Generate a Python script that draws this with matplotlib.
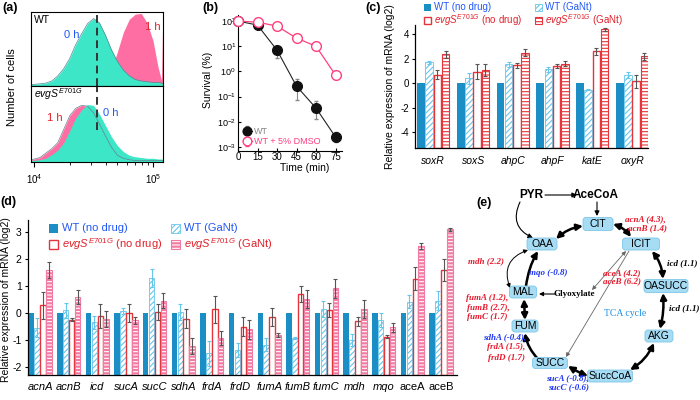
import numpy as np
import matplotlib
matplotlib.use('Agg')
import matplotlib.pyplot as plt
from matplotlib.patches import FancyBboxPatch, Rectangle
from matplotlib.ticker import FixedLocator, NullLocator, NullFormatter

plt.rcParams['font.family'] = ['Liberation Sans', 'DejaVu Sans']
plt.rcParams['mathtext.fontset'] = 'custom'
plt.rcParams['mathtext.rm'] = 'Liberation Sans'
plt.rcParams['mathtext.it'] = 'Liberation Sans:italic'
plt.rcParams['mathtext.bf'] = 'Liberation Sans:bold'
plt.rcParams['hatch.linewidth'] = 0.8
plt.rcParams['axes.unicode_minus'] = False

# ---------------- data ----------------
# (a) flow cytometry histograms (log10 fluorescence, normalised counts)
hist_logx = [3.98, 4.05, 4.10, 4.15, 4.20, 4.25, 4.30, 4.35, 4.40, 4.45, 4.50, 4.55,
             4.60, 4.65, 4.70, 4.75, 4.80, 4.85, 4.90, 4.95, 5.00, 5.04, 5.07, 5.08]
wt_0h = [0.0, 0.01, 0.02, 0.05, 0.12, 0.22, 0.36, 0.55, 0.70, 0.84, 0.91, 0.85,
         0.68, 0.48, 0.32, 0.20, 0.12, 0.07, 0.05, 0.04, 0.03, 0.03, 0.02, 0.02]
wt_1h = [0, 0, 0, 0, 0, 0, 0, 0, 0, 0, 0.0, 0.02,
         0.06, 0.20, 0.45, 0.72, 0.90, 0.97, 0.98, 0.85, 0.60, 0.25, 0.06, 0.85]
mut_1h = [0.01, 0.04, 0.10, 0.16, 0.24, 0.42, 0.60, 0.70, 0.74, 0.73, 0.64, 0.49,
          0.33, 0.18, 0.07, 0.03, 0.01, 0, 0, 0, 0, 0, 0, 0]
mut_0h = [0.0, 0.01, 0.03, 0.08, 0.14, 0.24, 0.40, 0.57, 0.68, 0.75, 0.74, 0.62,
          0.47, 0.32, 0.20, 0.12, 0.07, 0.05, 0.04, 0.03, 0.03, 0.02, 0.02, 0.02]
gate_logx = 4.53

# (b) survival
time_min = [0, 15, 30, 45, 60, 75]
wt_surv = [100, 69, 7.0, 0.26, 0.035, 0.0025]
wt_lo = [100, 60, 3.4, 0.074, 0.013, 0.0016]
wt_hi = [100, 78, 10.2, 0.5, 0.067, 0.004]
dmso_surv = [100, 90, 63, 21, 10, 0.72]
dmso_lo = [100, 80, 55, 17, 8, 0.55]
dmso_hi = [100, 100, 72, 25, 12.5, 0.9]

# (c) oxidative stress genes
c_genes = ['soxR', 'soxS', 'ahpC', 'ahpF', 'katE', 'oxyR']
c_wt_nodrug = [0, 0, 0, 0, 0, 0]
c_wt_gant = [1.7, 0.4, 1.55, 1.15, -0.55, 0.65]
c_wt_gant_err = [0.1, 0.45, 0.2, 0.2, 0.05, 0.25]
c_mut_nodrug = [0.7, 0.95, 1.45, 1.4, 2.6, 0.15]
c_mut_nodrug_err = [0.4, 0.6, 0.2, 0.15, 0.3, 0.55]
c_mut_gant = [2.35, 1.1, 2.5, 1.6, 4.4, 2.2]
c_mut_gant_err = [0.3, 0.5, 0.3, 0.2, 0.1, 0.3]

# (d) TCA genes
d_genes = ['acnA', 'acnB', 'icd', 'sucA', 'sucC', 'sdhA', 'frdA', 'frdD', 'fumA',
           'fumB', 'fumC', 'mdh', 'mqo', 'aceA', 'aceB']
d_wt_nodrug = [0] * 15
d_wt_gant = [-0.55, 0.1, -0.35, 0.07, 1.3, 0.04, -1.5, -1.38, -1.17, -0.92, 0.15,
             -1.0, -0.26, 0.42, 0.46]
d_wt_gant_err = [0.35, 0.27, 0.25, 0.1, 0.35, 0.3, 0.45, 0.25, 0.23, 0.03, 0.3,
                 0.22, 0.25, 0.25, 0.35]
d_mut_nodrug = [0.29, -0.25, -0.12, 0.0, 0.04, -0.22, 0.13, -0.51, -0.16, 0.7, 0.12,
                -0.3, -0.88, 1.27, 1.6]
d_mut_nodrug_err = [0.5, 0.05, 0.45, 0.35, 0.3, 0.35, 0.5, 0.35, 0.33, 0.3, 0.25,
                    0.17, 0.05, 0.43, 0.4]
d_mut_gant = [1.6, 0.6, -0.22, -0.27, 0.45, -1.23, -0.93, -0.61, -0.82, 0.52, 0.92,
              0.15, -0.53, 2.48, 3.1]
d_mut_gant_err = [0.3, 0.25, 0.3, 0.12, 0.28, 0.3, 0.25, 0.35, 0.07, 0.33, 0.35,
                  0.33, 0.17, 0.12, 0.07]

# ---------------- styles ----------------
CYAN = '#3DE6C6'
PINK = '#FF6EA2'
BLUE_BAR = '#1B8EC6'
HATCH_BLUE = '#66C6EC'
RED = '#E5343A'
PINK_BAR = '#F27BA3'
TXT_BLUE = '#2258F5'
TXT_RED = '#E0202A'
GENE_RED = '#E8192C'
GENE_BLUE = '#2038F0'

W, H = 700, 400
fig = plt.figure(figsize=(7, 4), dpi=100)


def axpx(l, t, r, b):
    return fig.add_axes([l / W, 1 - b / H, (r - l) / W, (b - t) / H])


ov = fig.add_axes([0, 0, 1, 1])
ov.set_xlim(0, W)
ov.set_ylim(H, 0)
ov.axis('off')
ov.set_zorder(10)
ov.patch.set_visible(False)

# ---------------- panel (a) ----------------
xs = 10 ** np.array(hist_logx)
axA1 = axpx(31, 12, 163, 86)
axA2 = axpx(31, 86, 163, 162)
for ax in (axA1, axA2):
    ax.set_xscale('log')
    ax.set_xlim(10 ** 3.975, 10 ** 5.083)
    ax.set_ylim(-0.02, 1.0)
    ax.set_yticks([])
    for s in ax.spines.values():
        s.set_linewidth(0.8)
axA1.fill_between(xs, wt_1h, -0.02, color=PINK, lw=0)
axA1.fill_between(xs, wt_0h, -0.02, color=CYAN, lw=0)
axA1.plot(xs, wt_0h, color='#4a8a98', lw=0.5)
axA1.axvline(10 ** gate_logx, color='#333333', lw=1.4, ls=(0, (4, 2.5)))
axA1.tick_params(axis='x', which='both', bottom=False, labelbottom=False)

axA2.fill_between(xs, mut_1h, -0.02, color=PINK, lw=0)
axA2.fill_between(xs, mut_0h, -0.02, color=CYAN, lw=0)
axA2.plot(xs, mut_1h, color='#6a7f90', lw=0.5)
axA2.axvline(10 ** gate_logx, ymin=0.42, ymax=1.0, color='#333333', lw=1.4, ls=(0, (4, 2.5)))
axA2.xaxis.set_major_locator(FixedLocator([1e4, 1e5]))
axA2.xaxis.set_minor_locator(FixedLocator([k * 1e4 for k in range(2, 10)]))
axA2.xaxis.set_minor_formatter(NullFormatter())
axA2.tick_params(axis='x', which='major', labelsize=7, length=3.5, width=0.8, pad=4)
axA2.tick_params(axis='x', which='minor', length=2, width=0.6)

ov.text(34, 20, 'WT', fontsize=7.5, va='center')
ov.text(72, 35, '0 h', fontsize=8, color=TXT_BLUE, va='center', ha='center')
ov.text(153, 27, '1 h', fontsize=8, color=TXT_RED, va='center', ha='center')
ov.text(34, 94, r'$evgS^{E701G}$', fontsize=7.5, va='center')
ov.text(55, 118, '1 h', fontsize=8, color=TXT_RED, va='center', ha='center')
ov.text(111, 113, '0 h', fontsize=8, color=TXT_BLUE, va='center', ha='center')
ov.text(12, 87, 'Number of cells', fontsize=8, rotation=90, va='center', ha='center')

# ---------------- panel (b) ----------------
axB = axpx(238, 15, 342, 151)
axB.set_yscale('log')
axB.set_xlim(0, 80)
axB.set_ylim(10 ** -3.16, 10 ** 2.24)
wt_err = [np.array(wt_surv) - np.array(wt_lo), np.array(wt_hi) - np.array(wt_surv)]
dm_err = [np.array(dmso_surv) - np.array(dmso_lo), np.array(dmso_hi) - np.array(dmso_surv)]
axB.errorbar(time_min, wt_surv, yerr=wt_err, color='#222222', lw=0.8, marker='o', ms=7,
             mfc='#111111', mec='#111111', ecolor='#888888', elinewidth=0.8, capsize=1.5,
             clip_on=False, zorder=3, label='WT')
axB.errorbar(time_min, dmso_surv, yerr=dm_err, color='#FF3F7E', lw=0.9, marker='o', ms=7,
             mfc='white', mec='#FF3F7E', mew=1.0, ecolor='#FF3F7E', elinewidth=0.7,
             capsize=1.5, clip_on=False, zorder=4, label='WT + 5% DMSO')
for s in ('top', 'right'):
    axB.spines[s].set_visible(False)
for s in ('left', 'bottom'):
    axB.spines[s].set_linewidth(0.8)
axB.set_xticks(time_min)
axB.yaxis.set_major_locator(FixedLocator([1e-3, 1e-2, 1e-1, 1, 10, 100]))
axB.yaxis.set_minor_locator(NullLocator())
axB.tick_params(labelsize=7, direction='in', length=2.5, width=0.8, pad=2)
axB.tick_params(axis='y', labelsize=6.5, pad=1.5)
axB.tick_params(axis='x', pad=1)
leg = axB.legend(loc='lower left', frameon=False, fontsize=6.5, handlelength=1.0,
                 handletextpad=0.3, labelspacing=0.15, borderaxespad=0.1,
                 bbox_to_anchor=(0.0, 0.0), labelcolor='linecolor', markerscale=0.9)
ov.text(208, 80, 'Survival (%)', fontsize=7.5, rotation=90, va='center', ha='center')
ov.text(305, 168, 'Time (min)', fontsize=7.5, va='center', ha='center')

# ---------------- bar helper ----------------
OFFS = [-0.31, -0.103, 0.103, 0.31]
BW = 0.19


def draw_bars(ax, n, wt0, wtg, wtg_e, m0, m0_e, mg, mg_e, bottom, pink_fill):
    x = np.arange(n)
    ax.bar(x + OFFS[0], np.array(wt0) - bottom, BW, bottom=bottom, color=BLUE_BAR, lw=0)
    ax.bar(x + OFFS[1], np.array(wtg) - bottom, BW, bottom=bottom, facecolor='white',
           edgecolor=HATCH_BLUE, hatch='//////', lw=0.6)
    ax.bar(x + OFFS[2], np.array(m0) - bottom, BW, bottom=bottom, facecolor='white',
           edgecolor=RED, lw=1.0)
    if pink_fill:
        ax.bar(x + OFFS[3], np.array(mg) - bottom, BW, bottom=bottom, facecolor=PINK_BAR,
               edgecolor='white', hatch='-----', lw=0)
        ax.bar(x + OFFS[3], np.array(mg) - bottom, BW, bottom=bottom, facecolor='none',
               edgecolor=PINK_BAR, lw=0.8)
    else:
        ax.bar(x + OFFS[3], np.array(mg) - bottom, BW, bottom=bottom, facecolor='white',
               edgecolor=RED, hatch='-----', lw=0.8)
    ax.errorbar(x + OFFS[1], wtg, yerr=wtg_e, fmt='none', ecolor=HATCH_BLUE,
                elinewidth=0.8, capsize=1.5, capthick=0.8)
    ax.errorbar(x + OFFS[2], m0, yerr=m0_e, fmt='none', ecolor='#555555',
                elinewidth=0.8, capsize=1.5, capthick=0.8)
    ax.errorbar(x + OFFS[3], mg, yerr=mg_e, fmt='none', ecolor='#555555',
                elinewidth=0.8, capsize=1.5, capthick=0.8)
    for s in ('top', 'right'):
        ax.spines[s].set_visible(False)
    for s in ('left', 'bottom'):
        ax.spines[s].set_linewidth(0.9)


def legend_square(x, y, size, kind):
    if kind == 0:
        ov.add_patch(Rectangle((x, y - size / 2), size, size, facecolor=BLUE_BAR, lw=0))
    elif kind == 1:
        ov.add_patch(Rectangle((x, y - size / 2), size, size, facecolor='white',
                               edgecolor=HATCH_BLUE, hatch='//////', lw=0.6))
    elif kind == 2:
        ov.add_patch(Rectangle((x, y - size / 2), size, size, facecolor='white',
                               edgecolor=RED, lw=1.0))
    elif kind == 3:
        ov.add_patch(Rectangle((x, y - size / 2), size, size, facecolor='white',
                               edgecolor=RED, hatch='-----', lw=0.8))
    else:
        ov.add_patch(Rectangle((x, y - size / 2), size, size, facecolor=PINK_BAR,
                               edgecolor='white', hatch='-----', lw=0))
        ov.add_patch(Rectangle((x, y - size / 2), size, size, facecolor='none',
                               edgecolor=PINK_BAR, lw=0.8))


# ---------------- panel (c) ----------------
axC = axpx(415, 25, 648, 148)
c_bottom = -5.3
axC.set_ylim(c_bottom, 4.75)
axC.set_xlim(-0.46, 5.4)
draw_bars(axC, len(c_genes), c_wt_nodrug, c_wt_gant, c_wt_gant_err, c_mut_nodrug,
          c_mut_nodrug_err, c_mut_gant, c_mut_gant_err, c_bottom, False)
axC.set_yticks([-4, -2, 0, 2, 4])
axC.set_xticks(range(len(c_genes)))
axC.set_xticklabels(c_genes, fontstyle='italic', fontsize=7.5)
axC.tick_params(axis='x', length=0, pad=6)
axC.tick_params(axis='y', labelsize=7, length=2.5, width=0.8, pad=2)
ov.text(390, 87, 'Relative expression of mRNA (log2)', fontsize=7.5, rotation=90,
        va='center', ha='center')
legend_square(424, 7, 7, 0)
ov.text(434, 7, 'WT (no drug)', fontsize=7, color=TXT_BLUE, va='center')
legend_square(535, 7, 7, 1)
ov.text(545, 7, 'WT (GaNt)', fontsize=7, color=TXT_BLUE, va='center')
legend_square(424, 20, 7, 2)
ov.text(434, 20, r'$evgS^{E701G}$ (no drug)', fontsize=7, color=TXT_RED, va='center')
legend_square(535, 20, 7, 3)
ov.text(545, 20, r'$evgS^{E701G}$ (GaNt)', fontsize=7, color=TXT_RED, va='center')

# ---------------- panel (d) ----------------
axD = axpx(28, 220, 457, 375)
d_bottom = -2.3
axD.set_ylim(d_bottom, 3.45)
axD.set_xlim(-0.42, 14.56)
draw_bars(axD, len(d_genes), d_wt_nodrug, d_wt_gant, d_wt_gant_err, d_mut_nodrug,
          d_mut_nodrug_err, d_mut_gant, d_mut_gant_err, d_bottom, True)
axD.set_yticks([-2, -1, 0, 1, 2, 3])
axD.set_xticks(range(len(d_genes)))
axD.set_xticklabels(d_genes, fontsize=8)
for lab in axD.get_xticklabels():
    if lab.get_text() not in ('aceA', 'aceB'):
        lab.set_fontstyle('italic')
axD.tick_params(axis='x', length=0, pad=5)
axD.tick_params(axis='y', labelsize=7.5, length=2.5, width=0.8, pad=2)
ov.text(6, 300, 'Relative expression of mRNA (log2)', fontsize=7.5, rotation=90,
        va='center', ha='center')
legend_square(49, 228, 9, 0)
ov.text(62, 228, 'WT (no drug)', fontsize=8, color=TXT_BLUE, va='center')
legend_square(171, 228, 9, 1)
ov.text(184, 228, 'WT (GaNt)', fontsize=8, color=TXT_BLUE, va='center')
legend_square(49, 244, 9, 2)
ov.text(62, 244, r'$evgS^{E701G}$ (no drug)', fontsize=8, color=TXT_RED, va='center')
legend_square(171, 244, 9, 4)
ov.text(184, 244, r'$evgS^{E701G}$ (GaNt)', fontsize=8, color=TXT_RED, va='center')

# ---------------- panel labels ----------------
for lab, x, y in [('(a)', 2, 8), ('(b)', 202, 8), ('(c)', 365, 8), ('(d)', 0, 202),
                  ('(e)', 476, 203)]:
    ov.text(x, y, lab, fontsize=9, fontweight='bold', va='center')

# ---------------- panel (e) TCA diagram ----------------
nodes = {'CIT': (598, 224, 30, 13), 'OAA': (542, 244, 30, 12), 'ICIT': (641, 244, 37, 12),
         'OASUCC': (666, 286, 44, 13), 'MAL': (523, 292, 27, 12), 'FUM': (525, 326, 26, 12),
         'AKG': (659, 336, 28, 12), 'SUCC': (550, 363, 35, 11), 'SuccCoA': (610, 376, 45, 12)}
for name, (cx, cy, w, h) in nodes.items():
    ov.add_patch(FancyBboxPatch((cx - w / 2, cy - h / 2), w, h,
                                boxstyle='round,pad=0,rounding_size=3',
                                facecolor='#A6DCF4', edgecolor='#7FC5E6', lw=0.6, zorder=3))
    ov.text(cx, cy, name, fontsize=7.5, ha='center', va='center', zorder=4)

ov.text(531, 195, 'PYR', fontsize=8.5, fontweight='bold', ha='center', va='center')
ov.text(596, 195, 'AceCoA', fontsize=8.5, fontweight='bold', ha='center', va='center')


def arrow(p0, p1, style='<|-|>', lw=1.8, color='k', rad=-0.15, ms=9):
    ov.annotate('', xy=p1, xytext=p0,
                arrowprops=dict(arrowstyle=style, lw=lw, color=color, shrinkA=0, shrinkB=0,
                                connectionstyle='arc3,rad=%g' % rad, mutation_scale=ms),
                zorder=2)


# ring
arrow((556, 239), (583, 226))
arrow((613, 224), (631, 237))
arrow((652, 251), (663, 279))
arrow((663, 293), (660, 329), rad=-0.08)
arrow((654, 343), (630, 370))
arrow((588, 376), (568, 366), rad=-0.05)
arrow((538, 359), (525, 333), style='-|>')
arrow((525, 320), (524, 299), rad=0.0)
arrow((526, 286), (538, 251), style='-|>', rad=-0.1)
# thin arrows
arrow((545, 195), (577, 195), style='-|>', lw=0.8, rad=0.0, ms=7)
arrow((597, 202), (597, 216), style='-|>', lw=0.8, rad=0.0, ms=7)
arrow((520, 202), (533, 238), style='-|>', lw=0.8, rad=0.5, ms=7)
arrow((528, 250), (510, 288), style='<|-|>', lw=0.7, rad=0.5, ms=6)
arrow((556, 294), (539, 294), style='-|>', lw=0.8, rad=0.0, ms=6)
arrow((626, 251), (592, 290), style='<|-|>', lw=0.6, color='#666666', rad=0.0, ms=6)
arrow((629, 251), (566, 357), style='-|>', lw=0.6, color='#666666', rad=0.0, ms=6)

ov.text(574, 294, 'Glyoxylate', fontsize=6.5, fontweight='bold', family='Liberation Serif',
        ha='center', va='center')
ov.text(625, 314, 'TCA cycle', fontsize=7, color='#1E90E0', family='Liberation Serif',
        ha='center', va='center')

gene_labels = [
    ('acnA (4.3),', 645, 219, GENE_RED), ('acnB (1.4)', 648, 228, GENE_RED),
    ('icd (1.1)', 682, 263, 'black'), ('icd (1.1)', 684, 308, 'black'),
    ('mdh (2.2)', 486, 261, GENE_RED), ('mqo (-0.8)', 548, 273, GENE_BLUE),
    ('aceA (4.2)', 622, 273, GENE_RED), ('aceB (6.2)', 622, 281, GENE_RED),
    ('fumA (1.2),', 487, 298, GENE_RED), ('fumB (2.7),', 488, 308, GENE_RED),
    ('fumC (1.7)', 487, 317, GENE_RED),
    ('sdhA (-0.4),', 505, 337, GENE_BLUE), ('frdA (1.5),', 506, 347, GENE_RED),
    ('frdD (1.7)', 507, 358, GENE_RED),
    ('sucA (-0.8),', 567, 378, GENE_BLUE), ('sucC (-0.6)', 569, 387, GENE_BLUE),
]
for s, x, y, c in gene_labels:
    ov.text(x, y, s, fontsize=6.5, fontweight='bold', fontstyle='italic',
            family='Liberation Serif', color=c, ha='center', va='center', zorder=5)

fig.savefig('out.png', dpi=100)
